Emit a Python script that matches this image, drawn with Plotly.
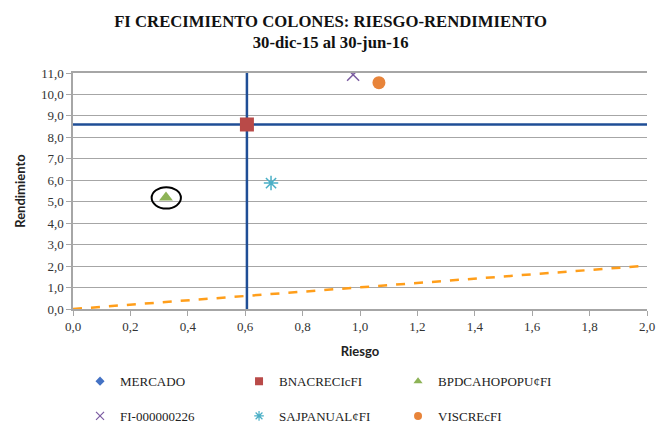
import plotly.graph_objects as go

# Data
fund_names = ["MERCADO", "BNACRECIcFI", "BPDCAHOPOPU¢FI", "FI-000000226", "SAJPANUAL¢FI", "VISCREcFI"]
riesgo = [0.606, 0.606, 0.324, 0.976, 0.69, 1.066]
rendimiento = [8.6, 8.6, 5.2, 10.92, 5.87, 10.55]
symbols = ["diamond", "square", "triangle-up", "x-thin-open", "asterisk-open", "circle"]
colors = ["#4472C4", "#B94A48", "#8DB356", "#7B5BA1", "#4AAFC6", "#E8843A"]
sizes = [9, 14, 12, 12, 12, 13]
legend_sizes = [7, 8, 8, 8, 8, 8]

market_riesgo = 0.606
market_rend = 8.6
line_x = [0.0, 2.0]
line_y = [0.0, 2.02]
highlight = "BPDCAHOPOPU¢FI"

fig = go.Figure()

# Market cross lines
fig.add_trace(go.Scatter(x=[market_riesgo, market_riesgo], y=[0, 11], mode="lines",
                         line=dict(color="#1F4E96", width=2.5), showlegend=False, hoverinfo="skip"))
fig.add_trace(go.Scatter(x=[0, 2.0], y=[market_rend, market_rend], mode="lines",
                         line=dict(color="#1F4E96", width=2.5), showlegend=False, hoverinfo="skip"))
# Dashed orange line
fig.add_trace(go.Scatter(x=line_x, y=line_y, mode="lines",
                         line=dict(color="#FF9E1A", width=2.5, dash="dash"), showlegend=False, hoverinfo="skip"))

for i, name in enumerate(fund_names):
    open_sym = symbols[i].endswith("open")
    marker = dict(symbol=symbols[i], size=sizes[i], color=colors[i])
    lmarker = dict(symbol=symbols[i], size=legend_sizes[i], color=colors[i])
    if open_sym:
        marker["line"] = dict(color=colors[i], width=1.5)
        lmarker["line"] = dict(color=colors[i], width=1.2)
    fig.add_trace(go.Scatter(
        x=[riesgo[i]], y=[rendimiento[i]], mode="markers", name=name,
        marker=marker, showlegend=False))
    # legend entry (small symbol like the reference)
    fig.add_trace(go.Scatter(
        x=[None], y=[None], mode="markers", name=name, marker=lmarker,
        legend="legend" if i < 3 else "legend2", hoverinfo="skip"))

hi = fund_names.index(highlight)
fig.add_shape(type="circle", xref="x", yref="y",
              x0=riesgo[hi] - 0.05, x1=riesgo[hi] + 0.052,
              y0=rendimiento[hi] - 0.52, y1=rendimiento[hi] + 0.48,
              line=dict(color="black", width=2))

serif = "Liberation Serif, Times New Roman, serif"
sans = "Lato, Liberation Sans, sans-serif"
legend_common = dict(orientation="h", xanchor="left", yanchor="middle",
                     xref="container", yref="container",
                     font=dict(family=serif, size=13, color="#222"),
                     entrywidth=114, entrywidthmode="pixels",
                     itemsizing="trace", bgcolor="rgba(0,0,0,0)",
                     itemwidth=30)

fig.update_layout(
    width=656, height=424,
    margin=dict(l=73, r=9, t=73, b=115, autoexpand=False),
    paper_bgcolor="white", plot_bgcolor="white",
    separators=",.",
    title=dict(text="<b>FI CRECIMIENTO COLONES: RIESGO-RENDIMIENTO<br>30-dic-15 al 30-jun-16</b>",
               x=0.504, xanchor="center", y=0.937, yanchor="top",
               font=dict(family=serif, size=16.7, color="#111")),
    xaxis=dict(range=[0, 2.0], dtick=0.2, tick0=0, tickformat=".1f", automargin=False,
               showgrid=False, zeroline=False, showline=True, linecolor="#A6A6A6",
               linewidth=1.5, mirror=True, ticks="outside", ticklen=5, tickcolor="#A6A6A6",
               tickfont=dict(family=serif, size=13, color="#333"),
               title=dict(text="<b>Riesgo</b>", font=dict(family=sans, size=13, color="#222"), standoff=14)),
    yaxis=dict(range=[0, 11], dtick=1, tick0=0, tickformat=".1f", automargin=False,
               showgrid=True, gridcolor="#A6A6A6", gridwidth=1, zeroline=False,
               showline=True, linecolor="#A6A6A6", linewidth=1.5,
               ticks="outside", ticklen=5, tickcolor="#A6A6A6",
               tickfont=dict(family=serif, size=13, color="#333"),
               title=dict(text="<b>Rendimiento</b>", font=dict(family=sans, size=13, color="#222"), standoff=12)),
    legend=dict(x=0.122, y=0.101, **legend_common),
    legend2=dict(x=0.122, y=0.019, **legend_common),
)

fig.write_html("out.html", config={"displayModeBar": False},
               post_script="document.body.style.margin='0';document.body.style.overflow='hidden';")
